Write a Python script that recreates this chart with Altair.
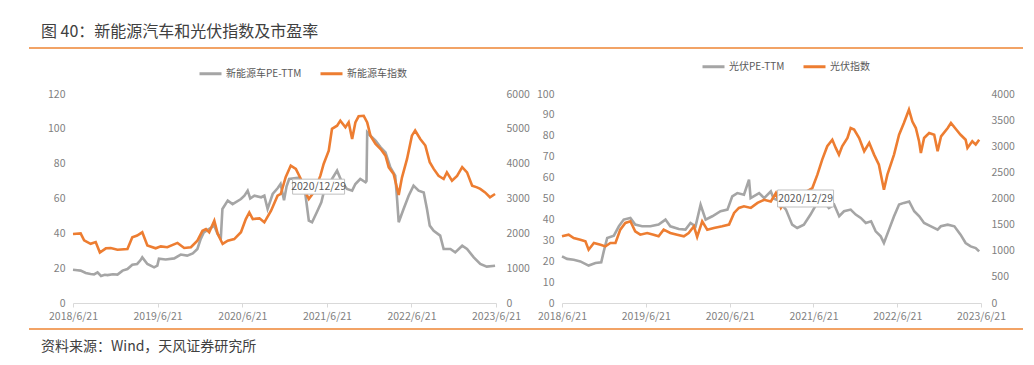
import altair as alt
import pandas as pd

FONT = "Noto Sans CJK SC"
GRAY = "#A5A5A5"
ORANGE = "#ED7D31"
RULE = "#EE8433"
LABEL = "#7F7F7F"
LEGEND_LABEL = "#595959"

TITLE = "图 40：新能源汽车和光伏指数及市盈率"
SOURCE = "资料来源：Wind，天风证券研究所"

nev_series = ["新能源车PE-TTM", "新能源车指数"]
pv_series = ["光伏PE-TTM", "光伏指数"]

x_tick_dates = ["2018-06-21", "2019-06-21", "2020-06-21", "2021-06-21", "2022-06-21", "2023-06-21"]
nev_pe_ticks = [0, 20, 40, 60, 80, 100, 120]
nev_idx_ticks = [0, 1000, 2000, 3000, 4000, 5000, 6000]
pv_pe_ticks = [0, 10, 20, 30, 40, 50, 60, 70, 80, 90, 100]
pv_idx_ticks = [0, 500, 1000, 1500, 2000, 2500, 3000, 3500, 4000]

# 新能源车 PE-TTM (left axis)
nev_pe_dates = [
    "2018-06-21", "2018-07-10", "2018-07-24", "2018-08-15", "2018-09-05", "2018-09-20",
    "2018-10-05", "2018-10-20", "2018-11-05", "2018-11-17", "2018-12-10", "2018-12-30",
    "2019-01-21", "2019-02-11", "2019-03-04", "2019-03-25", "2019-04-08", "2019-04-16",
    "2019-05-08", "2019-06-06", "2019-06-20", "2019-06-27", "2019-07-26", "2019-09-01",
    "2019-09-29", "2019-10-27", "2019-11-20", "2019-12-10", "2019-12-24", "2020-01-07",
    "2020-01-30", "2020-02-21", "2020-03-05", "2020-03-20", "2020-03-27", "2020-04-19",
    "2020-05-10", "2020-06-15", "2020-06-30", "2020-07-14", "2020-07-25", "2020-08-12",
    "2020-09-10", "2020-09-24", "2020-10-08", "2020-10-30", "2020-11-21", "2020-12-03",
    "2020-12-18", "2020-12-29", "2021-01-09", "2021-02-21", "2021-03-10", "2021-03-21",
    "2021-04-04", "2021-04-18", "2021-05-08", "2021-05-28", "2021-06-11", "2021-07-13",
    "2021-08-04", "2021-08-25", "2021-09-16", "2021-10-08", "2021-10-22", "2021-11-12",
    "2021-12-05", "2021-12-09", "2021-12-12", "2021-12-26", "2022-01-17", "2022-02-08",
    "2022-03-01", "2022-03-22", "2022-04-12", "2022-04-20", "2022-04-27", "2022-05-18",
    "2022-06-09", "2022-06-30", "2022-07-22", "2022-08-13", "2022-08-27", "2022-09-08",
    "2022-09-25", "2022-10-23", "2022-11-07", "2022-12-06", "2022-12-27", "2023-01-26",
    "2023-02-16", "2023-03-17", "2023-04-14", "2023-05-12", "2023-06-17",
]
nev_pe = [
    19.1, 18.8, 18.6, 17.2, 16.7, 16.4,
    17.6, 15.5, 16.2, 16.0, 16.5, 16.3,
    18.6, 19.5, 22.0, 22.4, 24.5, 26.2,
    22.4, 20.5, 21.5, 25.5, 25.0, 25.6,
    27.8, 27.2, 28.5, 31.0, 36.7, 40.6,
    42.5, 44.4, 40.0, 37.0, 54.0, 58.8,
    56.8, 59.7, 61.6, 64.5, 60.0, 61.6,
    60.7, 61.6, 54.0, 62.6, 66.0, 68.3,
    59.0, 67.0, 71.2, 72.0, 68.0, 61.6,
    47.3, 46.4, 52.0, 57.8, 65.5, 71.2,
    76.0, 69.3, 65.5, 64.5, 68.3, 71.2,
    69.3, 70.0, 98.0, 96.0, 93.2, 89.4,
    86.5, 77.9, 73.1, 59.7, 46.4, 54.0,
    61.6, 67.4, 64.5, 63.5, 54.0, 44.4,
    41.5, 38.7, 31.0, 31.0, 29.1, 32.9,
    31.0, 26.2, 22.4, 20.9, 21.4,
]

# 新能源车指数 (right axis)
nev_idx_dates = [
    "2018-06-21", "2018-07-24", "2018-08-08", "2018-09-05", "2018-09-27", "2018-10-15",
    "2018-11-10", "2018-12-01", "2018-12-30", "2019-02-11", "2019-03-04", "2019-03-25",
    "2019-04-16", "2019-05-08", "2019-06-13", "2019-07-05", "2019-08-02", "2019-09-15",
    "2019-10-14", "2019-11-12", "2019-12-10", "2020-01-01", "2020-01-16", "2020-01-30",
    "2020-02-21", "2020-03-07", "2020-03-28", "2020-04-19", "2020-05-17", "2020-06-15",
    "2020-07-06", "2020-07-21", "2020-08-05", "2020-09-03", "2020-09-24", "2020-10-23",
    "2020-11-20", "2020-12-04", "2020-12-25", "2021-01-16", "2021-02-07", "2021-02-28",
    "2021-03-21", "2021-04-04", "2021-04-25", "2021-05-24", "2021-06-07", "2021-06-29",
    "2021-07-13", "2021-08-04", "2021-08-18", "2021-09-09", "2021-09-23", "2021-10-08",
    "2021-10-22", "2021-11-05", "2021-11-27", "2021-12-12", "2021-12-26", "2022-01-17",
    "2022-02-08", "2022-03-01", "2022-03-15", "2022-04-05", "2022-04-27", "2022-05-11",
    "2022-06-02", "2022-06-23", "2022-07-07", "2022-07-29", "2022-08-20", "2022-09-08",
    "2022-09-25", "2022-10-16", "2022-11-07", "2022-11-21", "2022-12-13", "2023-01-04",
    "2023-01-26", "2023-02-16", "2023-03-10", "2023-03-31", "2023-04-14", "2023-05-05",
    "2023-05-26", "2023-06-17",
]
nev_idx = [
    1980, 2000, 1800, 1700, 1750, 1450,
    1570, 1580, 1530, 1550, 1885, 1935,
    2030, 1650, 1570, 1625, 1600, 1725,
    1580, 1600, 1790, 2075, 2125, 2030,
    2365, 1980, 1695, 1790, 1835, 2030,
    2410, 2600, 2410, 2430, 2315, 2650,
    3080, 3130, 3610, 3945, 3850, 3570,
    3175, 2985, 3175, 3655, 3990, 4375,
    5000, 5090, 5235, 5045, 5185, 4710,
    5185, 5360, 5375, 5185, 4805, 4565,
    4420, 4230, 3895, 3705, 3100, 3600,
    4135, 4805, 4950, 4710, 4520, 4040,
    3850, 3650, 3560, 3750, 3510, 3650,
    3900, 3750, 3370, 3320, 3275, 3175,
    3035, 3130,
]

# 光伏 PE-TTM (left axis)
pv_pe_dates = [
    "2018-06-21", "2018-07-13", "2018-08-11", "2018-09-09", "2018-10-15", "2018-11-14",
    "2018-12-09", "2018-12-20", "2019-01-04", "2019-02-02", "2019-02-24", "2019-03-17",
    "2019-04-15", "2019-05-06", "2019-06-05", "2019-07-11", "2019-08-16", "2019-09-15",
    "2019-10-06", "2019-11-12", "2019-12-11", "2020-01-02", "2020-01-24", "2020-02-15",
    "2020-03-08", "2020-04-06", "2020-05-12", "2020-06-11", "2020-07-02", "2020-07-24",
    "2020-08-22", "2020-09-13", "2020-09-20", "2020-10-27", "2020-11-18", "2020-12-17",
    "2020-12-29", "2021-01-20", "2021-02-21", "2021-03-20", "2021-04-11", "2021-05-10",
    "2021-06-08", "2021-07-07", "2021-08-05", "2021-08-27", "2021-09-19", "2021-10-11",
    "2021-11-01", "2021-11-30", "2021-12-22", "2022-01-13", "2022-02-04", "2022-02-27",
    "2022-03-19", "2022-04-10", "2022-04-24", "2022-05-16", "2022-06-07", "2022-06-29",
    "2022-07-20", "2022-08-12", "2022-09-03", "2022-09-25", "2022-10-16", "2022-11-15",
    "2022-12-14", "2022-12-28", "2023-01-27", "2023-02-25", "2023-03-24", "2023-04-15",
    "2023-05-07", "2023-05-29", "2023-06-13",
]
pv_pe = [
    22.3, 21.1, 20.7, 19.9, 17.9, 19.1,
    19.5, 24.7, 31.1, 32.2, 36.7, 39.9,
    40.7, 37.5, 36.7, 36.7, 37.5, 39.9,
    36.7, 35.4, 35.1, 38.3, 36.7, 47.0,
    39.9, 41.5, 43.9, 44.7, 51.0, 52.6,
    51.8, 59.0, 50.2, 52.6, 50.2, 53.4,
    50.0, 49.0, 44.7, 37.5, 35.9, 37.5,
    42.3, 47.9, 48.6, 45.5, 47.1, 41.5,
    43.9, 44.7, 42.3, 40.7, 38.3, 39.1,
    34.3, 31.9, 28.7, 35.1, 41.5, 47.1,
    47.9, 48.6, 43.9, 41.5, 38.3, 36.7,
    35.1, 36.7, 37.5, 36.7, 32.7, 28.7,
    27.1, 26.3, 24.7,
]

# 光伏指数 (right axis)
pv_idx_dates = [
    "2018-06-21", "2018-07-20", "2018-08-11", "2018-09-09", "2018-10-01", "2018-10-15",
    "2018-11-07", "2018-12-06", "2018-12-27", "2019-01-18", "2019-02-09", "2019-03-02",
    "2019-03-24", "2019-04-15", "2019-05-06", "2019-05-28", "2019-06-27", "2019-07-25",
    "2019-08-16", "2019-09-07", "2019-10-06", "2019-11-05", "2019-12-04", "2019-12-25",
    "2020-01-17", "2020-01-31", "2020-02-22", "2020-03-15", "2020-04-13", "2020-05-19",
    "2020-06-18", "2020-07-10", "2020-07-31", "2020-08-22", "2020-09-21", "2020-10-20",
    "2020-11-18", "2020-12-17", "2021-01-08", "2021-01-30", "2021-02-20", "2021-03-15",
    "2021-04-05", "2021-05-10", "2021-06-16", "2021-07-08", "2021-07-29", "2021-08-20",
    "2021-09-11", "2021-09-26", "2021-10-10", "2021-10-24", "2021-11-16", "2021-11-30",
    "2021-12-15", "2022-01-06", "2022-01-28", "2022-02-19", "2022-03-12", "2022-04-02",
    "2022-04-24", "2022-05-09", "2022-06-07", "2022-06-29", "2022-07-20", "2022-08-11",
    "2022-08-26", "2022-09-10", "2022-09-24", "2022-10-02", "2022-10-16", "2022-11-07",
    "2022-11-29", "2022-12-14", "2022-12-29", "2023-01-27", "2023-02-10", "2023-03-05",
    "2023-03-24", "2023-04-15", "2023-04-23", "2023-05-14", "2023-05-29", "2023-06-13",
]
pv_idx = [
    1276, 1308, 1244, 1212, 1180, 1020,
    1148, 1116, 1084, 1148, 1148, 1404,
    1532, 1564, 1372, 1308, 1340, 1308,
    1276, 1404, 1340, 1308, 1276, 1340,
    1468, 1264, 1564, 1404, 1436, 1468,
    1500, 1724, 1820, 1852, 1820, 1916,
    1976, 1944, 2104, 1820, 1960, 1880,
    2000, 2104, 2200, 2456, 2744, 3000,
    3124, 2968, 2840, 3000, 3158, 3349,
    3320, 3158, 2904, 3064, 2840, 2648,
    2168, 2456, 2840, 3220, 3444, 3700,
    3472, 3349, 3096, 2871, 3158, 3254,
    3220, 2904, 3190, 3349, 3444, 3320,
    3220, 3124, 2968, 3096, 3032, 3124,
]

annot_label = "2020/12/29"
annot_date = "2020-12-29"
nev_annot_pe = 66.8
pv_annot_pe = 50.0


def tdate(s):
    y, m, d = map(int, s.split("-"))
    return alt.DateTime(year=y, month=m, date=d, utc=True)


def x_enc():
    return alt.X(
        "date:T",
        scale=alt.Scale(type="utc", domain=[tdate(x_tick_dates[0]), tdate(x_tick_dates[-1])]),
        axis=alt.Axis(
            values=[tdate(s) for s in x_tick_dates],
            labelExpr="utcFormat(datum.value, '%Y/%-m/%-d')", title=None, grid=False,
            domainColor="#D9D9D9", domainWidth=1, tickColor="#D9D9D9", tickSize=4,
            labelPadding=4, labelFont=FONT, labelFontSize=10.5, labelColor=LABEL,
            labelOverlap=False, labelFlush=False,
        ),
    )


def panel(series, pe_dates, pe_vals, idx_dates, idx_vals, pe_max, pe_ticks,
          idx_max, idx_ticks, width, legend_x, legend_y, annot_pe, box_w, box_h, extras):
    pe_df = pd.DataFrame({"date": pe_dates, "value": pe_vals, "series": series[0]})
    idx_df = pd.DataFrame({"date": idx_dates, "value": idx_vals, "series": series[1]})
    color = alt.Color(
        "series:N",
        scale=alt.Scale(domain=series, range=[GRAY, ORANGE]),
        legend=alt.Legend(
            orient="none", legendX=legend_x, legendY=legend_y, direction="horizontal",
            title=None, symbolType="stroke", symbolSize=484, symbolStrokeWidth=3,
            labelFont=FONT, labelFontSize=10, labelColor=LEGEND_LABEL,
            columnPadding=12, labelOffset=3,
        ),
    )
    gray = alt.Chart(pe_df).mark_line(strokeWidth=2.6).encode(
        x=x_enc(),
        y=alt.Y("value:Q", scale=alt.Scale(domain=[0, pe_max], nice=False),
                axis=alt.Axis(orient="left", values=pe_ticks, title=None, domain=False,
                              ticks=False, grid=False, labelPadding=8, labelFont=FONT,
                              labelFontSize=10.5, labelColor=LABEL, format="d")),
        color=color,
    )
    orange = alt.Chart(idx_df).mark_line(strokeWidth=2.6).encode(
        x=x_enc(),
        y=alt.Y("value:Q", scale=alt.Scale(domain=[0, idx_max], nice=False),
                axis=alt.Axis(orient="right", values=idx_ticks, title=None, domain=False,
                              ticks=False, grid=False, labelPadding=10, labelFont=FONT,
                              labelFontSize=10.5, labelColor=LABEL, format="d")),
        color=color,
    )
    ann_df = pd.DataFrame({"date": [annot_date], "value": [annot_pe], "label": [annot_label]})
    ann_y = alt.Y("value:Q", scale=alt.Scale(domain=[0, pe_max], nice=False), axis=None)
    ratio = round(box_h / box_w, 3)
    box = alt.Chart(ann_df).mark_point(
        shape=f"M-1,-{ratio}H1V{ratio}H-1Z", size=box_w * box_w, filled=True,
        fill="white", stroke="#BFBFBF", strokeWidth=1, opacity=1, xOffset=32,
    ).encode(x=x_enc(), y=ann_y)
    txt = alt.Chart(ann_df).mark_text(
        dx=32, align="center", baseline="middle", font=FONT, fontSize=10.5, color=LEGEND_LABEL,
    ).encode(x=x_enc(), y=ann_y, text="label:N")
    return alt.layer(gray, orange, box, txt, *extras).resolve_scale(y="independent").properties(
        width=width, height=209)


one = pd.DataFrame({"t": [TITLE], "s": [SOURCE]})
top_anchor = alt.Chart(one).mark_rule(color="white", strokeWidth=1).encode(
    x=alt.value(0), x2=alt.value(10), y=alt.value(-85))
title_txt = alt.Chart(one).mark_text(
    align="left", baseline="middle", font=FONT, fontSize=16, color="#404040").encode(
    x=alt.value(-32), y=alt.value(-62), text="t:N")
top_rule = alt.Chart(one).mark_rule(color=RULE, strokeWidth=1.6).encode(
    x=alt.value(-44), x2=alt.value(950), y=alt.value(-46))
bottom_rule = alt.Chart(one).mark_rule(color=RULE, strokeWidth=1.6).encode(
    x=alt.value(-44), x2=alt.value(950), y=alt.value(235))
source_txt = alt.Chart(one).mark_text(
    align="left", baseline="middle", font=FONT, fontSize=14, color="#404040").encode(
    x=alt.value(-32), y=alt.value(253), text="s:N")

left = panel(nev_series, nev_pe_dates, nev_pe, nev_idx_dates, nev_idx, 120, nev_pe_ticks,
             6000, nev_idx_ticks, 423, 125, -33, nev_annot_pe, 52, 15,
             [top_anchor, title_txt, top_rule, bottom_rule, source_txt])
right = panel(pv_series, pv_pe_dates, pv_pe, pv_idx_dates, pv_idx, 100, pv_pe_ticks,
              4000, pv_idx_ticks, 419, 139, -40, pv_annot_pe, 56, 17, [])

chart = alt.hconcat(left, right, spacing=66, bounds="flush").resolve_scale(
    color="independent").resolve_legend(color="independent").properties(
    padding={"left": 20, "top": 0, "right": 0, "bottom": 0},
    background="white",
).configure_view(strokeWidth=0)

chart.save("out.html", embed_options={"renderer": "svg", "actions": False})
